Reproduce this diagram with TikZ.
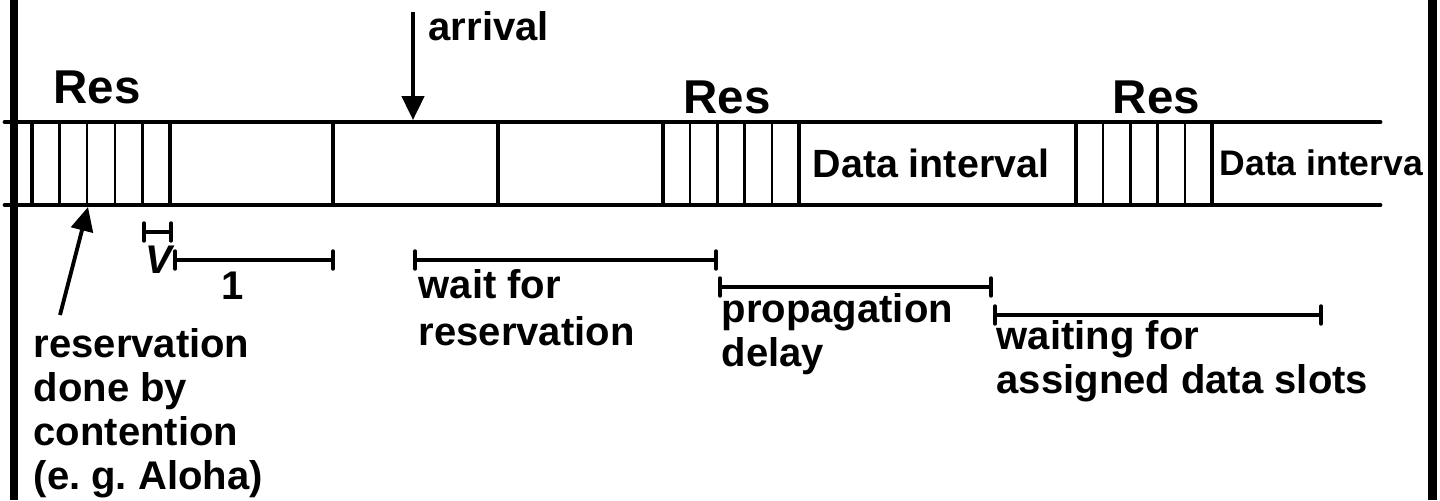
\documentclass[tikz,border=0pt]{standalone}
\usepackage{fontspec}
\setmainfont{Liberation Sans}
\usetikzlibrary{arrows.meta}
\frenchspacing
\newcommand\lblfont{\fontsize{11.38pt}{12.5pt}\selectfont\bfseries}
\newcommand\resfont{\fontsize{13.5pt}{15pt}\selectfont\bfseries}
\newcommand\datafont{\fontsize{11.2pt}{13pt}\selectfont\bfseries}
\newcommand\smalldatafont{\fontsize{10.1pt}{12pt}\selectfont\bfseries}
\begin{document}
\begin{tikzpicture}[x=0.01cm,y=-0.01cm,
  frame/.style={line width=2.4pt},
  rail/.style={line width=1.4pt, line cap=round},
  edge/.style={line width=1.1pt},
  slot/.style={line width=0.7pt},
  span/.style={line width=1.1pt, {Bar[width=5pt,round]}-{Bar[width=5pt,round]}},
  lbl/.style={font=\lblfont, inner sep=0pt, anchor=base west, align=left},
  res/.style={font=\resfont, inner sep=0pt, anchor=base west},
  pointer/.style={line width=1.1pt, -{Triangle[width=6.3pt,length=6.8pt]}}]

\useasboundingbox (0,0) rectangle (1440,500);

% outer frame bars
\draw[frame] (14,0) -- (14,500);
\draw[frame] (1432.5,0) -- (1432.5,500);

% time axis rails
\coordinate (railTL) at (5,122);
\coordinate (railTR) at (1380,122);
\coordinate (railBL) at (5,205);
\coordinate (railBR) at (1380,205);
\draw[rail] (railTL) -- (railTR);
\draw[rail] (railBL) -- (railBR);

% frame boundaries
\foreach \x in {32,170,333,498,663,799,1076,1212}
  \draw[edge] (\x,122) -- (\x,205);

% reservation minislots
\foreach \a/\b in {32/170,663/799,1076/1212}
  \foreach \k in {1,...,4}
    \draw[slot] ({\a+\k*(\b-\a)/5},122) -- ({\a+\k*(\b-\a)/5},205);

% labels on the axis
\node[res] (res1) at (53,103) {Res};
\node[res] (res2) at (683,113) {Res};
\node[res] (res3) at (1112,113) {Res};
\node[inner sep=0pt, anchor=base west, font=\datafont] (data1) at (812,177) {Data interval};
\node[inner sep=0pt, anchor=base west, font=\smalldatafont] (data2) at (1219,175) {Data interva};

% arrival
\coordinate (arrtop) at (413,12);
\coordinate (arrtip) at (413,120);
\draw[pointer] (arrtop) -- (arrtip);
\node[lbl] (arrival) at (428,40) {arrival};

% contention arrow (base anchor sits on the last line)
\node[lbl] (contention) at (33,489) {reservation\\done by\\contention\\(e. g. Aloha)};
\coordinate (ctail) at (60,315);
\coordinate (chit) at (88,207);
\draw[pointer] (ctail) -- (chit);

% durations
\coordinate (v0) at (142,232);  \coordinate (v1) at (173,232);
\coordinate (u0) at (173,260);  \coordinate (u1) at (335,260);
\coordinate (w0) at (413,260);  \coordinate (w1) at (718,260);
\coordinate (p0) at (718,287);  \coordinate (p1) at (993,287);
\coordinate (q0) at (993,315);  \coordinate (q1) at (1323,315);
\draw[span] (v0) -- (v1);
\draw[span] (u0) -- (u1);
\draw[span] (w0) -- (w1);
\draw[span] (p0) -- (p1);
\draw[span] (q0) -- (q1);

\node[inner sep=0pt, anchor=base west, font=\lblfont\itshape] (vlbl) at (145,273) {V};
\node[inner sep=0pt, anchor=base, font=\lblfont] (one) at (233,299) {1};
\node[lbl, font=\fontsize{11.38pt}{13.3pt}\selectfont\bfseries] (waitres) at (418,345) {wait for\\reservation};
\node[lbl] (prop) at (721,366) {propagation\\delay};
\node[lbl] (waitdata) at (996,393) {waiting for\\assigned data slots};
\end{tikzpicture}
\end{document}
